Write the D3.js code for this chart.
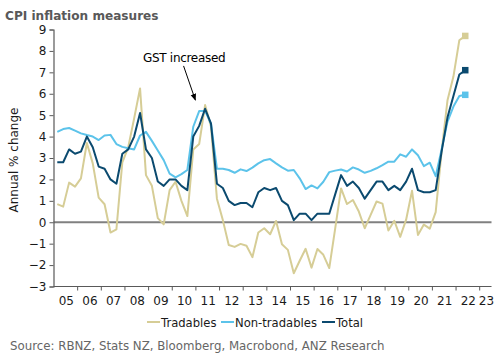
<!DOCTYPE html>
<html><head><meta charset="utf-8">
<script src="https://cdn.jsdelivr.net/npm/d3@7"></script>
<style>body{margin:0;background:#fff}svg{display:block}text{font-family:"DejaVu Sans",Verdana,sans-serif}</style>
</head><body>
<script>
// ---- data ----
const startYear = 2005; // first quarter: 2005Q1; last point (square) = 2022Q2 forecast
const tradables = [0.85,0.73,1.85,1.66,2.05,3.7,2.75,1.15,0.84,-0.48,-0.33,2.8,3.5,4.85,6.25,
  2.2,1.7,0.19,-0.1,1.5,1.89,1.0,0.29,
  3.4,3.65,5.47,4.46,1.1,0.1,
  -1.06,-1.15,-1.01,-1.1,-1.63,-0.48,-0.28,-0.56,0.06,-1.03,-1.29,-2.38,-1.8,-1.24,-2.12,-1.25,-1.52,-2.14,
  -0.3,1.58,0.85,1.04,0.5,-0.28,0.34,0.97,0.87,-0.39,0.07,-0.68,0.12,1.47,-0.59,-0.11,-0.3,0.47,
  3.3,5.7,6.8,8.5,8.7];
const nonTradables = [4.22,4.35,4.4,4.28,4.15,4.07,4.0,3.84,4.05,4.08,3.65,3.52,3.46,3.4,
  4.05,4.22,3.8,3.35,2.9,2.27,2.1,2.25,2.44,
  4.46,5.19,5.2,4.6,
  2.5,2.5,2.44,2.31,2.47,2.39,2.55,2.75,2.9,2.95,2.75,2.56,2.41,2.44,2.05,1.55,1.72,1.58,1.89,
  2.34,2.41,2.46,2.37,2.56,2.46,2.31,2.4,2.52,2.67,2.83,2.83,3.17,3.06,3.4,3.13,2.62,2.78,2.15,
  3.4,4.7,5.4,5.9,5.95];
const total = [2.8,2.8,3.4,3.2,3.3,4.0,3.5,2.6,2.5,2.0,1.8,3.2,3.4,4.0,5.1,
  3.4,3.0,1.9,1.7,2.0,2.0,1.7,1.5,
  4.0,4.5,5.3,4.6,1.8,1.6,1.0,0.8,
  0.9,0.9,0.7,1.4,1.6,1.5,1.6,1.0,0.8,
  0.1,0.4,0.4,0.1,0.4,0.4,0.4,1.3,
  2.2,1.7,1.9,1.6,1.1,1.5,1.9,1.9,
  1.5,1.7,1.5,1.9,2.5,1.5,1.4,1.4,
  1.5,3.3,4.9,5.9,6.9,7.1];
const seriesNames = ["Tradables","Non-tradables","Total"];
const yTicks = [-3,-2,-1,0,1,2,3,4,5,6,7,8,9];
const xYears = [2005,2006,2007,2008,2009,2010,2011,2012,2013,2014,2015,2016,2017,2018,2019,2020,2021,2022,2023];
const xLabels = ["05","06","07","08","09","10","11","12","13","14","15","16","17","18","19","20","21","22","23"];
const annotation = "GST increased";
const title = "CPI inflation measures";
const yTitle = "Annual % change";
const source = "Source: RBNZ, Stats NZ, Bloomberg, Macrobond, ANZ Research";

// ---- setup ----
const W = 503, H = 358;
const colors = ["#d6cd96","#5cc3ea","#0b4a6f"];
const svg = d3.select("body").append("svg").attr("width",W).attr("height",H);
svg.append("rect").attr("width",W).attr("height",H).attr("fill","#fff");

const x = d3.scaleLinear().domain([2005, 2023.52]).range([53.5, 491.5]);
const y = d3.scaleLinear().domain([-3, 9]).range([286.5, 29.5]);
const dateOf = i => startYear + 0.16 + i/4;

const seriesData = [tradables, nonTradables, total];

// title
svg.append("text").attr("x",5).attr("y",20).attr("font-weight","bold").attr("font-size",12.1)
  .attr("fill","#595959").text(title);

// zero line
svg.append("line").attr("x1",x(2005)).attr("x2",x(2023.52)).attr("y1",y(0)).attr("y2",y(0))
  .attr("stroke","#808080").attr("stroke-width",2);

// y axis
const yAxis = d3.axisLeft(y).tickValues(yTicks).tickSize(4).tickPadding(3).tickFormat(d3.format("d"));
const gy = svg.append("g").attr("transform",`translate(${x(2005)},0)`).call(yAxis);
gy.select(".domain").attr("stroke","#595959").attr("stroke-width",1.2);
gy.selectAll(".tick line").attr("stroke","#595959");
gy.selectAll(".tick text").attr("font-size",12).attr("fill","#1a1a1a").style("font-family","DejaVu Sans, Verdana, sans-serif");

// x axis
const xAxis = d3.axisBottom(x).tickValues(xYears.slice(1)).tickSize(4).tickFormat("");
const gx = svg.append("g").attr("transform",`translate(0,${y(-3)})`).call(xAxis);
gx.select(".domain").attr("stroke","#595959").attr("stroke-width",1.2).attr("d",`M${x(2005)},0H${x(2023.52)}`);
gx.selectAll(".tick line").attr("stroke","#595959");
svg.append("g").selectAll("text").data(xYears).join("text")
  .attr("x",(d,i)=>Math.min(x(d+0.5)+1, 486.5)).attr("y",y(-3)+18).attr("text-anchor","middle")
  .attr("font-size",12).attr("fill","#1a1a1a").text((d,i)=>xLabels[i]);

// y title
svg.append("text").attr("transform",`translate(18,${(y(9)+y(-3))/2+2}) rotate(-90)`)
  .attr("text-anchor","middle").attr("font-size",12).attr("fill","#1a1a1a").text(yTitle);

// lines
const line = d3.line().x((d,i)=>x(dateOf(i))).y(d=>y(d));
seriesData.forEach((s,k)=>{
  svg.append("path").datum(s).attr("d",line).attr("fill","none")
    .attr("stroke",colors[k]).attr("stroke-width",2).attr("stroke-linejoin","round");
});
// forecast squares (last point)
seriesData.forEach((s,k)=>{
  const i = s.length-1, sz = 6.5;
  svg.append("rect").attr("x",x(dateOf(i))-sz/2).attr("y",y(s[i])-sz/2)
    .attr("width",sz).attr("height",sz).attr("fill",colors[k]);
});

// annotation
svg.append("defs").append("marker").attr("id","arr").attr("viewBox","0 0 10 10")
  .attr("refX",9).attr("refY",5).attr("markerWidth",7).attr("markerHeight",7).attr("orient","auto")
  .append("path").attr("d","M0,1L10,5L0,9z").attr("fill","#000");
svg.append("text").attr("x",143).attr("y",62).attr("font-size",12).attr("fill","#000")
  .attr("letter-spacing",-0.3).text(annotation);
svg.append("line").attr("x1",x(2010.5)).attr("y1",y(7.3)).attr("x2",x(2011.0)).attr("y2",y(5.7))
  .attr("stroke","#000").attr("stroke-width",1).attr("marker-end","url(#arr)");

// legend
const legendItems = [{x:147},{x:221},{x:322}];
seriesNames.forEach((n,k)=>{
  const lx = legendItems[k].x;
  svg.append("line").attr("x1",lx).attr("x2",lx+13).attr("y1",322).attr("y2",322)
    .attr("stroke",colors[k]).attr("stroke-width",2);
  svg.append("text").attr("x",lx+14).attr("y",327).attr("font-size",11.6).attr("fill","#1a1a1a").text(n);
});

// source
svg.append("text").attr("x",10).attr("y",350).attr("font-size",11.8).attr("fill","#666").text(source);
</script>
</body></html>
